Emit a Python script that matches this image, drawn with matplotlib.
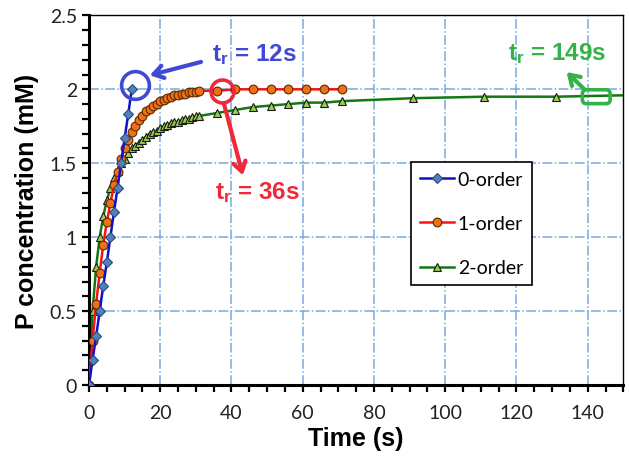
import numpy as np
import matplotlib.pyplot as plt
from matplotlib.patches import FancyBboxPatch
from matplotlib.offsetbox import DrawingArea, AnnotationBbox

plt.rcParams["font.family"] = "Lato", "DejaVu Sans"
plt.rcParams["mathtext.fontset"] = "custom"
plt.rcParams["mathtext.bf"] = "Liberation Sans:bold"
plt.rcParams["mathtext.rm"] = "Liberation Sans"

# 0-order
t0 = [0, 1, 2, 3, 4, 5, 6, 7, 8, 9, 10, 11, 12]
p0 = [0, 0.17, 0.33, 0.50, 0.67, 0.83, 1.00, 1.17, 1.33, 1.50, 1.67, 1.83, 2.00]

# 1-order
t1 = list(range(0, 32)) + [36, 41, 46, 51, 56, 61, 66, 71]
p1 = [0, 0.30, 0.55, 0.76, 0.95, 1.10, 1.23, 1.35, 1.44, 1.53, 1.60,
      1.66, 1.71, 1.75, 1.79, 1.82, 1.85, 1.87, 1.89, 1.90, 1.92,
      1.93, 1.94, 1.95, 1.96, 1.96, 1.97, 1.97, 1.98, 1.98, 1.98, 1.99,
      1.99, 2.00, 2.00, 2.00, 2.00, 2.00, 2.00, 2.00]

# 2-order
t2 = list(range(0, 32)) + [36, 41, 46, 51, 56, 61, 66, 71, 91, 111, 131, 151]
p2 = [0, 0.50, 0.80, 1.00, 1.14, 1.25, 1.33, 1.40, 1.45, 1.50, 1.53,
      1.57, 1.60, 1.62, 1.64, 1.66, 1.68, 1.70, 1.71, 1.72, 1.74,
      1.75, 1.76, 1.77, 1.78, 1.78, 1.79, 1.80, 1.80, 1.81, 1.82, 1.82,
      1.84, 1.86, 1.88, 1.89, 1.90, 1.91, 1.91, 1.92, 1.94, 1.95, 1.95, 1.96]

labels = ['0-order', '1-order', '2-order']

blue = '#4049d4'
red = '#f0283a'
green = '#33b24a'

fig, ax = plt.subplots(figsize=(6.29, 4.64), dpi=100)
fig.subplots_adjust(left=0.1415, right=0.991, top=0.9647, bottom=0.168)

ax.plot(t0, p0, '-D', color='#1010c8', lw=1.8, ms=5.5, mfc='#4f81bd',
        mec='#2a4a78', mew=0.8, label=labels[0], zorder=4)
ax.plot(t1, p1, '-o', color='#ff1010', lw=1.8, ms=6.3, mfc='#f07018',
        mec='#5a2a00', mew=0.8, label=labels[1], zorder=3)
ax.plot(t2, p2, '-^', color='#127812', lw=1.8, ms=6.3, mfc='#9acd4a',
        mec='#1a1a1a', mew=0.8, label=labels[2], zorder=2,
        markevery=list(range(len(t2) - 1)))

ax.set_xlim(0, 150)
ax.set_ylim(0, 2.5)
ax.set_xticks(np.arange(0, 141, 20))
ax.set_xticks(np.arange(0, 151, 5), minor=True)
ax.set_yticks(np.arange(0, 2.51, 0.5))
ax.set_yticks(np.arange(0, 2.51, 0.1), minor=True)
ax.set_yticklabels(['0', '0.5', '1', '1.5', '2', '2.5'])
ax.tick_params(which='both', direction='out', length=5, width=1.6,
               labelsize=14, labelcolor='#222222')
ax.tick_params(axis='x', pad=9)
ax.grid(True, which='major', color='#78a8e2', ls='-.', lw=1.1)
ax.set_axisbelow(True)
for s in ['left', 'bottom']:
    ax.spines[s].set_linewidth(2.2)
for s in ['top', 'right']:
    ax.spines[s].set_linewidth(1.0)

ax.set_xlabel('Time (s)', fontsize=18, fontweight='bold',
              family='Liberation Sans', labelpad=3)
ax.set_ylabel('P concentration (mM)', fontsize=18, fontweight='bold',
              family='Liberation Sans', labelpad=8)

leg = ax.legend(loc='upper left', bbox_to_anchor=(0.6026, 0.603),
                borderaxespad=0, fontsize=14, labelspacing=1.4,
                handlelength=1.75, handletextpad=0.2, borderpad=0.45,
                fancybox=False, framealpha=1, edgecolor='black')
leg.get_frame().set_linewidth(1.2)

arrow = '->,head_length=0.7,head_width=0.45'

# tr = 12s
ax.plot([12.9], [2.03], 'o', ms=20, mfc='none', mec=blue, mew=2.6,
        zorder=6, clip_on=False)
ax.annotate('', xy=(16.3, 2.09), xytext=(32.2, 2.19),
            arrowprops=dict(arrowstyle=arrow, color=blue, lw=3))
ax.text(46.4, 2.24, r'$\mathbf{t_r}$ = 12s', color=blue, fontsize=17.5,
        fontweight='bold', family='Liberation Sans', ha='center', va='center')

# tr = 36s
ax.plot([37.3], [1.99], 'o', ms=16.5, mfc='none', mec=red, mew=2.6,
        zorder=6)
ax.annotate('', xy=(43.4, 1.40), xytext=(37.7, 1.92),
            arrowprops=dict(arrowstyle=arrow, color=red, lw=3))
ax.text(47.2, 1.31, r'$\mathbf{t_r}$ = 36s', color=red, fontsize=17.5,
        fontweight='bold', family='Liberation Sans', ha='center', va='center')

# tr = 149s
da = DrawingArea(20, 10, 0, 0)
da.add_artist(FancyBboxPatch((0, 0), 20, 10, boxstyle='round,pad=0,rounding_size=3',
                             fc='none', ec=green, lw=2.6))
ab = AnnotationBbox(da, (142.4, 1.95), frameon=False, pad=0, zorder=6)
ax.add_artist(ab)
ax.annotate('', xy=(133.5, 2.13), xytext=(139.5, 1.99),
            arrowprops=dict(arrowstyle=arrow, color=green, lw=3))
ax.text(131.4, 2.25, r'$\mathbf{t_r}$ = 149s', color=green, fontsize=17.5,
        fontweight='bold', family='Liberation Sans', ha='center', va='center')

plt.savefig('out.png', dpi=100)
